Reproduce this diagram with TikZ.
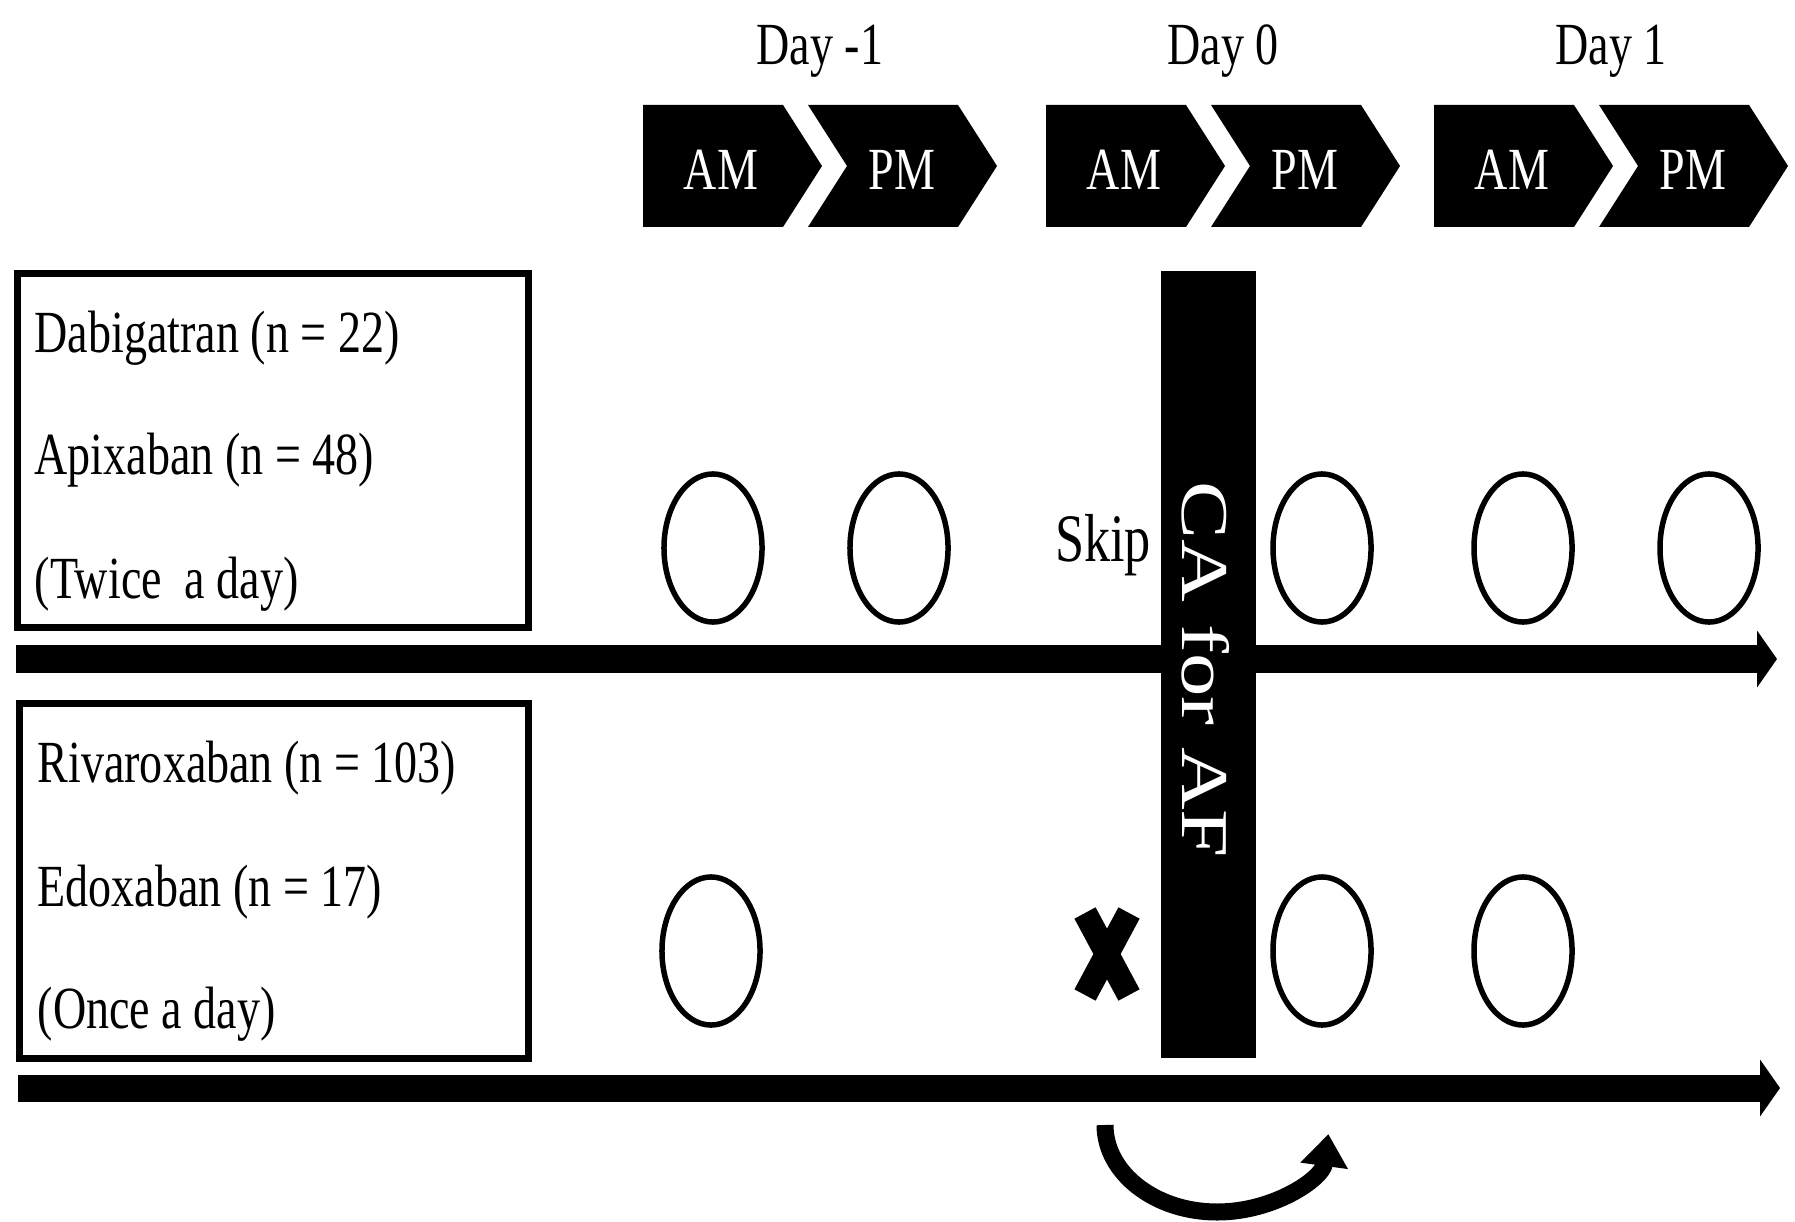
\documentclass[tikz,border=0pt]{standalone}
\usepackage{fontspec}
\usepackage{graphicx}
\setmainfont{Liberation Serif}
\usetikzlibrary{arrows.meta,shapes.geometric}

% condensed lettering used throughout the chart
\newcommand{\cnd}[1]{\scalebox{0.77}[1]{#1}}

\tikzset{
  lbl/.style={inner sep=0pt, font=\fontsize{17pt}{20pt}\selectfont},
  chevlbl/.style={lbl, text=white},
  chev/.style={fill=black, draw=none},
  groupbox/.style={draw=black, line width=0.07cm, fill=none, inner sep=0pt},
  dose/.style={ellipse, draw=black, line width=0.055cm, inner sep=0pt,
               minimum width=0.98cm, minimum height=1.48cm},
  timeline/.style={line width=0.27cm, -{Triangle[length=0.2cm,width=0.56cm]}},
  skipmark/.style={line width=0.24cm, line cap=butt},
  shiftarrow/.style={line width=0.17cm, -{Triangle[length=0.32cm,width=0.46cm]}},
}

\begin{document}
\begin{tikzpicture}[x=0.01cm, y=0.01cm]
\useasboundingbox (0,0) rectangle (1795,-1222);

% ---- day headers with AM / PM chevrons ----
\foreach \xo/\dname/\dtxt in {643/dm/{Day -1}, 1046/dz/{Day 0}, 1434/dp/{Day 1}}{
  \node[lbl, anchor=base] (\dname) at (\xo+177,-65) {\cnd{\dtxt}};
  \fill[chev] (\xo,-105) -- (\xo+140,-105) -- (\xo+179,-166) -- (\xo+140,-227)
              -- (\xo,-227) -- cycle;
  \fill[chev] (\xo+165,-105) -- (\xo+315,-105) -- (\xo+354,-166) -- (\xo+315,-227)
              -- (\xo+165,-227) -- (\xo+204,-166) -- cycle;
  \node[chevlbl, anchor=base] (\dname am) at (\xo+78,-190) {\cnd{AM}};
  \node[chevlbl, anchor=base] (\dname pm) at (\xo+259,-190) {\cnd{PM}};
}

% ---- drug group boxes ----
\node[groupbox, minimum width=5.11cm, minimum height=3.54cm] (bid) at (273,-450.5) {};
\node[groupbox, minimum width=5.09cm, minimum height=3.55cm] (qd) at (274,-881) {};

\node[lbl, anchor=base west] (dabi) at (34,-353) {\cnd{Dabigatran (n = 22)}};
\node[lbl, anchor=base west] (apix) at (34,-475) {\cnd{Apixaban (n = 48)}};
\node[lbl, anchor=base west] (twice) at (34,-598) {\cnd{(Twice\ \ a day)}};
\node[lbl, anchor=base west] (riva) at (37,-782) {\cnd{Rivaroxaban (n = 103)}};
\node[lbl, anchor=base west] (edox) at (37,-906) {\cnd{Edoxaban (n = 17)}};
\node[lbl, anchor=base west] (once) at (37,-1028) {\cnd{(Once a day)}};

% ---- time lines ----
\coordinate (tlAs) at (16,-659);
\coordinate (tlAe) at (1777,-659);
\coordinate (tlBs) at (18,-1088);
\coordinate (tlBe) at (1780,-1088);
\draw[timeline] (tlAs) -- (tlAe);
\draw[timeline] (tlBs) -- (tlBe);

% ---- catheter ablation bar ----
\node[fill=black, inner sep=0pt, minimum width=0.95cm, minimum height=7.87cm]
  (ca) at (1208.5,-664.5) {};
\node[inner sep=0pt, text=white, rotate=-90, font=\fontsize{24.7pt}{28pt}\selectfont]
  (catxt) at (1206,-670) {\scalebox{1}[0.77]{CA for AF}};

% ---- doses, twice-a-day group ----
\node[dose] (b1) at (713,-548) {};
\node[dose] (b2) at (899,-548) {};
\node[dose] (b3) at (1322,-548) {};
\node[dose] (b4) at (1523,-548) {};
\node[dose] (b5) at (1709,-548) {};
\node[font=\fontsize{19.3pt}{22pt}\selectfont, inner sep=0pt, anchor=base]
  (skip) at (1103,-561) {\scalebox{0.77}[1]{Skip}};

% ---- doses, once-a-day group ----
\node[dose] (q1) at (711,-951) {};
\node[dose] (q2) at (1322,-951) {};
\node[dose] (q3) at (1523,-951) {};
\coordinate (skipx) at (1107,-954);
\draw[skipmark] (skipx) ++(-22,41) -- ++(44,-82);
\draw[skipmark] (skipx) ++(22,41) -- ++(-44,-82);

% ---- postponed dose ----
\coordinate (shiftS) at (1105,-1125);
\draw[shiftarrow] (shiftS) arc[start angle=180, end angle=354, x radius=112, y radius=87];
\end{tikzpicture}
\end{document}
